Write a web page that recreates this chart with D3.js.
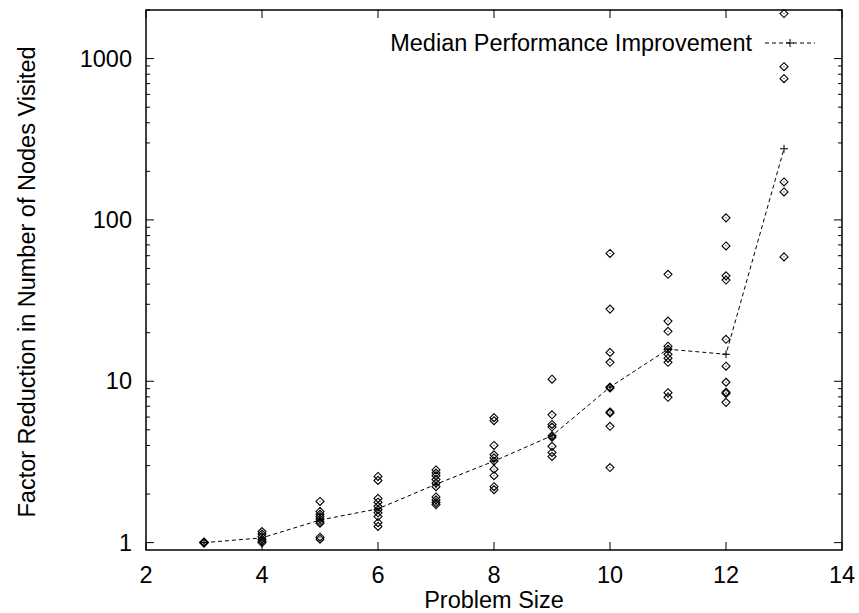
<!DOCTYPE html>
<html lang="en">
<head>
  <meta charset="UTF-8">
  <title>Factor reduction vs problem size</title>
  <script src="https://d3js.org/d3.v7.min.js"></script>
  <style>
  body { margin: 0; background: #fff; }
  text { font-family: "Liberation Sans", Arial, sans-serif; font-size: 23.5px; fill: #000; }
  </style>
</head>
<body>
<div id="chart"></div>
<script>
// problem sizes and the factor for every run
const sizes = [3, 4, 5, 6, 7, 8, 9, 10, 11, 12, 13];
const runs = [
  [1.0, 1.0, 1.0, 1.01, 0.995],
  [1.17, 1.13, 1.09, 1.05, 1.02, 1.0],
  [1.8, 1.56, 1.5, 1.45, 1.4, 1.35, 1.32, 1.08, 1.05],
  [2.57, 2.43, 1.88, 1.78, 1.68, 1.6, 1.53, 1.45, 1.33, 1.26],
  [2.82, 2.7, 2.6, 2.46, 2.34, 2.22, 1.92, 1.84, 1.77, 1.72],
  [5.95, 5.7, 4.0, 3.5, 3.35, 3.2, 2.85, 2.6, 2.22, 2.13],
  [10.3, 6.2, 5.4, 5.2, 4.6, 4.5, 3.95, 3.62, 3.42],
  [62, 28, 15.1, 13.1, 9.2, 9.1, 6.45, 6.35, 5.26, 2.92],
  [46, 23.6, 20.4, 16.5, 15.8, 14.7, 13.9, 13.1, 8.5, 7.95],
  [103, 69, 45, 42.4, 18.2, 12.4, 9.86, 8.55, 8.4, 7.4],
  [1900, 891, 751, 172, 149, 59]
];
const medians = [1.0, 1.07, 1.38, 1.62, 2.3, 3.2, 4.6, 9.2, 15.8, 14.7, 276];
const xTicks = [2, 4, 6, 8, 10, 12, 14];
const yTicks = [1, 10, 100, 1000];
const legendLabel = "Median Performance Improvement";

const W = 859, H = 613;
const margin = {top: 10, right: 17, bottom: 63, left: 146};
const gw = W - margin.left - margin.right;
const gh = H - margin.top - margin.bottom;

const svg = d3.select("#chart").append("svg")
  .attr("width", W)
  .attr("height", H);

const g = svg.append("g")
  .attr("transform", `translate(${margin.left},${margin.top})`);

const x = d3.scaleLinear().domain([2, 14]).range([0, gw]);
const y = d3.scaleLog().domain([0.9, 2000]).range([gh, 0]);

// minor ticks 2..9 per decade
const minor = [];
[1, 10, 100, 1000].forEach(d => {
  for (let k = 2; k <= 9; k++) if (d * k <= 2000) minor.push(d * k);
});

const ticks = g.append("g").attr("stroke", "#000").attr("stroke-width", 1);
xTicks.forEach(v => {
  ticks.append("line").attr("x1", x(v)).attr("x2", x(v)).attr("y1", gh).attr("y2", gh - 8);
  ticks.append("line").attr("x1", x(v)).attr("x2", x(v)).attr("y1", 0).attr("y2", 8);
});
yTicks.forEach(v => {
  ticks.append("line").attr("x1", 0).attr("x2", 8).attr("y1", y(v)).attr("y2", y(v));
  ticks.append("line").attr("x1", gw).attr("x2", gw - 8).attr("y1", y(v)).attr("y2", y(v));
});
minor.forEach(v => {
  ticks.append("line").attr("x1", 0).attr("x2", 4).attr("y1", y(v)).attr("y2", y(v));
  ticks.append("line").attr("x1", gw).attr("x2", gw - 4).attr("y1", y(v)).attr("y2", y(v));
});

// tick labels
g.selectAll(".xl").data(xTicks).enter().append("text")
  .attr("x", d => x(d)).attr("y", gh + 33)
  .attr("text-anchor", "middle").text(d => d);
g.selectAll(".yl").data(yTicks).enter().append("text")
  .attr("x", -14).attr("y", d => y(d) + 8)
  .attr("text-anchor", "end").text(d => d);

// frame
g.append("rect").attr("width", gw).attr("height", gh)
  .attr("fill", "none").attr("stroke", "#000").attr("stroke-width", 1.5);

// axis titles
svg.append("text")
  .attr("x", 494).attr("y", 608)
  .attr("text-anchor", "middle").text("Problem Size");
svg.append("text")
  .attr("transform", "translate(35,282) rotate(-90)")
  .attr("text-anchor", "middle").text("Factor Reduction in Number of Nodes Visited");

// diamond points
const diamond = "M0,-4L4,0L0,4L-4,0Z";
const pts = [];
sizes.forEach((s, i) => runs[i].forEach(v => pts.push({s, v})));
const pg = g.append("g");
pg.selectAll("path").data(pts).enter().append("path")
  .attr("d", diamond)
  .attr("transform", d => `translate(${x(d.s)},${y(d.v)})`)
  .attr("fill", "none").attr("stroke", "#000").attr("stroke-width", 1.1);
pg.selectAll("rect").data(pts).enter().append("rect")
  .attr("x", d => x(d.s) - 0.5).attr("y", d => y(d.v) - 0.5)
  .attr("width", 1).attr("height", 1).attr("fill", "#000");

// median line
const line = d3.line().x((d, i) => x(sizes[i])).y(d => y(d));
g.append("path").datum(medians)
  .attr("d", line)
  .attr("fill", "none").attr("stroke", "#000").attr("stroke-width", 1)
  .attr("stroke-dasharray", "4,3");
const plus = "M-4,0H4M0,-4V4";
g.selectAll(".med").data(medians).enter().append("path")
  .attr("d", plus)
  .attr("transform", (d, i) => `translate(${x(sizes[i])},${y(d)})`)
  .attr("stroke", "#000").attr("stroke-width", 1);

// legend
const ly = 33;
g.append("text").attr("x", 606).attr("y", ly + 8)
  .attr("text-anchor", "end").text(legendLabel);
g.append("line").attr("x1", 619).attr("x2", 669).attr("y1", ly).attr("y2", ly)
  .attr("stroke", "#000").attr("stroke-dasharray", "4,3");
g.append("path").attr("d", plus).attr("transform", `translate(644,${ly})`)
  .attr("stroke", "#000");
</script>
</body>
</html>
